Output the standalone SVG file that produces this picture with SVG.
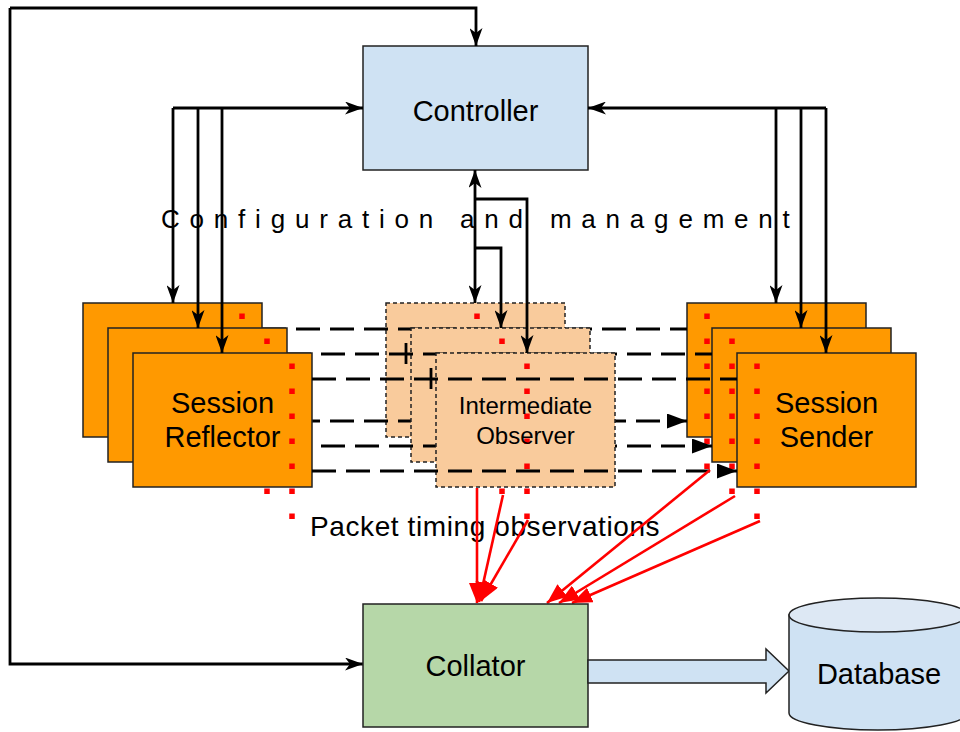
<svg xmlns="http://www.w3.org/2000/svg" width="960" height="732" viewBox="0 0 960 732">
  <defs>
    <style>
      text { font-family: "Liberation Sans", Arial, sans-serif; fill: #000; }
      .lbl { font-size: 29px; text-anchor: middle; }
      .small { font-size: 24px; text-anchor: middle; }
      .box { stroke: #222; stroke-width: 1.5; }
      .ctl { fill: #cfe2f3; }
      .col { fill: #b6d7a8; }
      .ses { fill: #ff9900; }
      .obs { fill: #f9cb9c; stroke-dasharray: 4 3; }
      .dots { stroke: #ff0000; stroke-width: 5.5; stroke-dasharray: 5.5 19.5; fill: none; }
      .wire { stroke: #000; stroke-width: 2.8; fill: none; }
      .dash { stroke: #000; stroke-width: 3; fill: none; stroke-dasharray: 24 10; }
      .obsv { stroke: #ff0000; stroke-width: 2.6; fill: none; marker-end: url(#red); }
    </style>
    <marker id="ah" viewBox="0 0 18 13" refX="18" refY="6.5" markerWidth="18" markerHeight="13" markerUnits="userSpaceOnUse" orient="auto-start-reverse">
      <path d="M0,0 L18,6.5 L0,13 L5,6.5 z" fill="#000"/>
    </marker>
    <marker id="tri" viewBox="0 0 20 15" refX="20" refY="7.5" markerWidth="20" markerHeight="15" markerUnits="userSpaceOnUse" orient="auto">
      <path d="M0,0 L20,7.5 L0,15 z" fill="#000"/>
    </marker>
    <marker id="red" viewBox="0 0 20 16" refX="20" refY="8" markerWidth="20" markerHeight="16" markerUnits="userSpaceOnUse" orient="auto">
      <path d="M0,0 L20,8 L0,16 z" fill="#ff0000"/>
    </marker>
  </defs>

  <g id="controller">
    <rect class="box ctl" x="363" y="46" width="225" height="124"/>
    <text class="lbl" x="475.5" y="121">Controller</text>
  </g>

  <!-- back layer -->
  <g id="reflector-3">
    <rect class="box ses" x="83" y="303" width="179" height="134"/>
    <line class="dots" x1="242" y1="313.5" x2="242" y2="469"/>
  </g>
  <g id="observer-3">
    <rect class="box obs" x="386" y="303" width="179" height="134"/>
    <line class="dots" x1="477" y1="313.5" x2="477" y2="469"/>
  </g>
  <g id="sender-3">
    <rect class="box ses" x="687" y="303" width="179" height="134"/>
    <line class="dots" x1="707" y1="313.5" x2="707" y2="469"/>
  </g>
  <g id="probe-links-3">
    <line class="dash" x1="262" y1="329" x2="687" y2="329"/>
    <line class="dash" x1="262" y1="421" x2="687" y2="421" marker-end="url(#tri)"/>
  </g>

  <!-- middle layer -->
  <g id="reflector-2">
    <rect class="box ses" x="108" y="328" width="179" height="134"/>
    <line class="dots" x1="267" y1="338.5" x2="267" y2="494"/>
  </g>
  <g id="observer-2">
    <rect class="box obs" x="411" y="328" width="179" height="134"/>
    <line class="dots" x1="502" y1="338.5" x2="502" y2="494"/>
  </g>
  <g id="sender-2">
    <rect class="box ses" x="712" y="328" width="179" height="134"/>
    <line class="dots" x1="732" y1="338.5" x2="732" y2="494"/>
  </g>
  <g id="probe-links-2">
    <line class="dash" x1="287" y1="354" x2="712" y2="354"/>
    <line class="wire" x1="406" y1="343" x2="406" y2="364"/>
    <line class="dash" x1="287" y1="446" x2="712" y2="446" marker-end="url(#tri)"/>
  </g>

  <!-- front layer -->
  <g id="reflector-1">
    <rect class="box ses" x="133" y="353" width="179" height="134"/>
    <line class="dots" x1="292" y1="363.5" x2="292" y2="519"/>
    <text class="lbl" x="222.5" y="413">Session</text>
    <text class="lbl" x="222.5" y="447">Reflector</text>
  </g>
  <g id="observer-1">
    <rect class="box obs" x="436" y="353" width="179" height="134"/>
    <line class="dots" x1="527" y1="363.5" x2="527" y2="519"/>
    <text class="small" x="525.5" y="414">Intermediate</text>
    <text class="small" x="525.5" y="444">Observer</text>
  </g>
  <g id="sender-1">
    <rect class="box ses" x="737" y="353" width="179" height="134"/>
    <line class="dots" x1="757" y1="363.5" x2="757" y2="519"/>
    <text class="lbl" x="826.5" y="413">Session</text>
    <text class="lbl" x="826.5" y="447">Sender</text>
  </g>
  <g id="probe-links-1">
    <line class="dash" x1="312" y1="379" x2="737" y2="379"/>
    <line class="wire" x1="431" y1="368" x2="431" y2="389"/>
    <line class="dash" x1="312" y1="471" x2="737" y2="471" marker-end="url(#tri)"/>
  </g>

  <!-- control wiring, on top of the stacked boxes it reaches -->
  <g id="control-links">
    <path class="wire" d="M10,8 L476,8 L476,46" marker-end="url(#ah)"/>
    <path class="wire" d="M10,8 L10,664 L363,664" marker-end="url(#ah)"/>
    <path class="wire" d="M173,108 L363,108" marker-end="url(#ah)"/>
    <path class="wire" d="M173,108 L173,303" marker-end="url(#ah)"/>
    <path class="wire" d="M198,108 L198,328" marker-end="url(#ah)"/>
    <path class="wire" d="M222,108 L222,353" marker-end="url(#ah)"/>
    <path class="wire" d="M826,108 L588,108" marker-end="url(#ah)"/>
    <path class="wire" d="M776,108 L776,303" marker-end="url(#ah)"/>
    <path class="wire" d="M801,108 L801,328" marker-end="url(#ah)"/>
    <path class="wire" d="M826,108 L826,353" marker-end="url(#ah)"/>
    <path class="wire" d="M475,170 L475,303" marker-start="url(#ah)" marker-end="url(#ah)"/>
    <path class="wire" d="M475,199 L527,199 L527,353" marker-end="url(#ah)"/>
    <path class="wire" d="M475,248 L501,248 L501,328" marker-end="url(#ah)"/>
  </g>

  <text x="161" y="228" style="font-size:26px; letter-spacing:9.8px">Configuration and management</text>

  <text x="310" y="536" style="font-size:28px; letter-spacing:0.6px">Packet timing observations</text>

  <!-- timing reports -->
  <g id="report-links">
    <line class="obsv" x1="477" y1="488" x2="477" y2="603"/>
    <line class="obsv" x1="503" y1="495" x2="479" y2="602"/>
    <line class="obsv" x1="528" y1="520" x2="481" y2="601"/>
    <line class="obsv" x1="710" y1="470" x2="547" y2="603"/>
    <line class="obsv" x1="735" y1="496" x2="559" y2="603"/>
    <line class="obsv" x1="760" y1="521" x2="572" y2="603"/>
  </g>

  <g id="collator">
    <rect class="box col" x="363" y="604" width="225" height="123"/>
    <text class="lbl" x="475.5" y="676">Collator</text>
  </g>

  <g id="store-link">
    <polygon class="box ctl" points="588,660 766,660 766,649 789,671 766,693 766,683 588,683"/>
  </g>

  <g id="database">
    <path class="box ctl" d="M789,615 L789,713 A89,17 0 0,0 967,713 L967,615 Z"/>
    <ellipse class="box" cx="878" cy="615" rx="89" ry="17" fill="#dde8f4"/>
    <text class="lbl" x="879" y="684">Database</text>
  </g>
</svg>
